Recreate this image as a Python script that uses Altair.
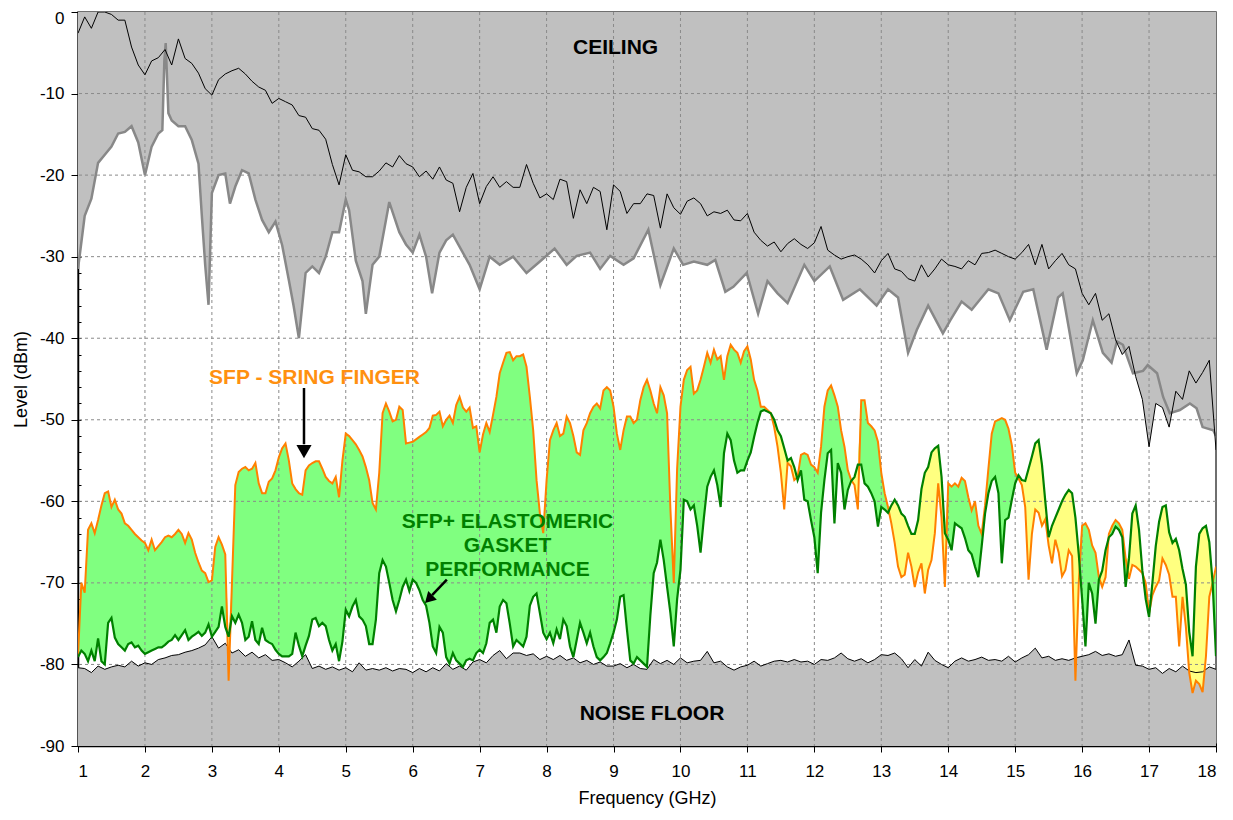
import altair as alt
import numpy as np
import pandas as pd

# ---------------- data ----------------
FREQ = np.round(np.arange(1.0, 18.0001, 0.05), 2)  # shared sweep for SFP / SFP+

SFP_DB = [
    -79, -70, -71.2, -63.5, -62.7, -63.9, -62.3, -60.5, -59, -58.8, -60.7, -59.8, -61, -61.5, -62.7, -63, -63.5, -64, -64.4, -64.8,
    -65.1, -66, -64.7, -66, -65.5, -65, -64.4, -64.2, -64.4, -64, -63.5, -64, -65.1, -63.9, -64.7, -66.3, -67.5, -68.5, -68.8, -69.9,
    -69.7, -65.6, -64.4, -65.3, -66.5, -82, -70, -58, -56.4, -56, -55.8, -56.2, -56, -55.3, -57.8, -59, -59, -57.6, -57.2, -56.2,
    -54.6, -53.5, -52.9, -55, -57.8, -58.5, -59, -59.2, -56.2, -55.6, -55.3, -55.1, -55.1, -56, -57, -57.5, -57.8, -57, -59.5, -55,
    -51.7, -52, -52.5, -53, -53.7, -54.5, -55.8, -57.4, -60.2, -61, -56.5, -49.2, -48, -49, -50.2, -50, -48.4, -48.8, -52.9, -52.8,
    -52.7, -52.4, -52.1, -51.8, -51.5, -51, -49.5, -49.4, -49, -50.8, -50, -49.5, -50.4, -48.2, -47.2, -48.5, -49, -48.5, -51, -50.8,
    -54, -51.8, -50.4, -51.5, -49.4, -47.2, -44.3, -43, -41.8, -41.7, -42.7, -42.2, -42.2, -42, -43.5, -47.2, -51.3, -57.4, -61.5, -63.9,
    -57.4, -52.5, -51.3, -50.4, -52, -51.7, -49.6, -50.4, -52, -54, -54.3, -51.3, -50.4, -49.2, -48.4, -48, -48.6, -46.4, -46, -46.4,
    -48.4, -51.7, -53.7, -51.3, -49.6, -49.6, -50.4, -50, -47.6, -46, -45.1, -46.4, -48, -49.2, -46, -47, -49.2, -61, -70, -56,
    -48.4, -45.1, -43.9, -43.5, -46.8, -46.4, -45.1, -43.5, -41.8, -43, -41.4, -42.6, -42.2, -45.1, -42.2, -40.8, -41.4, -41.8, -43, -41.6,
    -41, -42.6, -45.1, -46.4, -48.4, -48.4, -48.8, -49.2, -50.9, -53.3, -56.5, -61, -55.3, -55.7, -57.4, -57, -54.3, -54.1, -54.3, -55.5,
    -55.8, -56.5, -53.3, -48.4, -46.4, -45.8, -47, -48.4, -51.3, -53.3, -56.2, -57.4, -58, -61, -47.6, -47.6, -50.4, -50.8, -51.3, -52.7,
    -56.5, -59, -60.7, -62.7, -65.1, -68, -69.3, -69, -66.3, -68, -70.5, -68.7, -67.6, -71.3, -68.4, -67.2, -63.9, -57.8, -62, -70.5,
    -57.8, -58.2, -57.8, -58.2, -57.1, -57.5, -59.5, -61.1, -60, -63, -64, -60.5, -56, -51.7, -50.2, -50, -49.8, -50, -51.1, -53.1,
    -56.5, -57.2, -58, -60.7, -69.6, -64, -61, -61.4, -63, -62.2, -65.4, -67.6, -64.7, -66.3, -69.2, -68.4, -66, -66.7, -82, -70,
    -63, -62.7, -63.5, -65.4, -66.3, -69.3, -70.5, -69.3, -64, -63, -62.3, -62.7, -63.5, -67, -69.5, -67.8, -68, -68.4, -68.8, -70,
    -73.7, -71.5, -70.5, -69.7, -67, -67.8, -69, -71.7, -71.7, -77.8, -71.7, -75.4, -81, -83.5, -82, -82.4, -83.4, -79, -71.7, -70,
    -68,
]

SFPP_DB = [
    -79.1, -78.3, -78.7, -79.6, -78.3, -79.6, -76.8, -79.6, -80, -74.9, -74.3, -76.7, -77.5, -77.9, -78.3, -77.5, -77.3, -77.9, -77.7, -78.3,
    -78.7, -78.5, -78.3, -78.1, -77.9, -77.9, -77.6, -77.2, -77, -76.4, -77, -76.4, -75.8, -77, -76.6, -76.3, -76, -76.5, -76.1, -75.1,
    -76.6, -76, -75.4, -72.9, -75.4, -76.6, -74.1, -74.9, -73.9, -74.9, -77, -76.6, -74.7, -77, -77.5, -75.5, -77, -77.3, -77.5, -78.2,
    -78.7, -79, -79, -79, -78.7, -76.1, -77.7, -79, -77.7, -76.5, -74.5, -74.3, -75.3, -74.9, -75.3, -77, -78.3, -77.5, -79.6, -77.2,
    -73.3, -74.1, -72.9, -72.1, -74.1, -74.5, -75.3, -77.5, -77.5, -74.5, -68.8, -67.2, -68, -70, -72.1, -73.5, -72.1, -70.5, -69.6, -71,
    -69.6, -70, -70.9, -72.1, -72.8, -74.9, -77.8, -78.6, -75.4, -76.1, -79.1, -79.9, -78.6, -79.5, -79.9, -80.3, -79.5, -79.3, -79.5, -78.6,
    -78.2, -78.6, -77.4, -74.9, -74.5, -76.1, -72.9, -72.1, -72.5, -75, -77.8, -77, -77.4, -77.8, -76.6, -72.8, -71.7, -71.3, -73.7, -76.1,
    -76.9, -76.1, -77.4, -75.7, -76.9, -74.5, -75.3, -77.8, -79.1, -77, -74.9, -76.1, -77.4, -76.1, -77.8, -79.1, -79.5, -79.1, -78.6, -77.4,
    -76.1, -74.5, -71.7, -71.5, -75.7, -79.5, -79.9, -79.1, -79.5, -79.9, -80.3, -74, -68.8, -67.5, -64.7, -67.2, -70.5, -73.7, -77.8, -72,
    -68.4, -59.8, -60, -61, -60.5, -63, -66.3, -62, -58.2, -57, -56.2, -58, -60.7, -54.1, -51.7, -52.5, -55, -56.5, -56.2, -56.2,
    -55, -54, -52.1, -50.4, -49, -48.8, -49, -49.2, -50, -51.3, -52, -53.5, -55, -54.7, -55.8, -57.4, -56.2, -59.8, -60, -62.3,
    -64.4, -68.8, -61.4, -57.4, -54.1, -53.7, -62.7, -55.3, -56.5, -61, -58.6, -57.5, -57, -55.5, -55.5, -57.8, -58.2, -59, -60, -63.1,
    -60.7, -61, -61.4, -60.5, -59.8, -60.5, -61.5, -61.9, -63, -64, -64, -62.3, -58.5, -56.5, -55.8, -54, -53.5, -53.2, -57, -63.9,
    -64.7, -66, -62.7, -63, -63.3, -64.5, -66, -66.5, -68, -69.3, -65.5, -61.5, -59, -57.5, -57, -59, -67.6, -62.3, -62, -59.8,
    -57.8, -56.8, -57.4, -57.5, -56, -54.5, -52.9, -52.5, -55.5, -60, -64.4, -63, -62, -61, -60, -59.2, -58.6, -59, -62, -66.5,
    -72, -77.8, -70, -71.3, -75, -69.6, -68.5, -66, -64.4, -64, -63.1, -63.5, -64.4, -70.5, -67, -61.5, -60.5, -63.5, -68.5, -72,
    -74.2, -70, -65.5, -62.5, -60.7, -60.5, -63.8, -65.1, -64.6, -66, -68.3, -70.2, -76, -79, -68, -64, -63.3, -63, -65, -70,
    -79,
]

GRID_F = np.round(np.arange(1.0, 18.0001, 0.1), 2)  # sweep for noise floor / ceiling reference

NOISE_DB = [
    -80.4, -80.5, -81, -80.2, -80.6, -80.3, -80.1, -80.3, -79.6, -80.2,
    -79.8, -80, -79.4, -79.2, -78.9, -78.8, -78.5, -78.3, -78, -77.6,
    -76.6, -78, -77.4, -78.6, -78.2, -79, -78.5, -79.2, -78.8, -79.5,
    -79.4, -79.8, -80.3, -79.6, -78.8, -80.5, -80.2, -80.6, -80.3, -80.7,
    -80.4, -80.9, -79.8, -80.7, -80.5, -80.7, -80.4, -80.8, -80.5, -80.6,
    -81, -80.5, -80.9, -80.4, -80.8, -79.9, -80.6, -80.2, -80.7, -79.7,
    -79.4, -79.8, -78.9, -78.3, -79.3, -78.6, -78.6, -78.9, -78.7, -79.4,
    -79, -79.4, -78.9, -79.5, -79.2, -79.8, -79.5, -80, -79.7, -80.2,
    -80.2, -79.9, -80.4, -80, -80.5, -80.6, -79.4, -79.9, -79.5, -80,
    -79.2, -79.8, -79.6, -79.5, -78.4, -79.8, -79.6, -80.3, -80.7, -80.3,
    -80.1, -79.6, -80.2, -79.9, -79.6, -79.5, -79.7, -79.4, -79.7, -79.6,
    -80, -79.4, -79.5, -79.2, -78.6, -79.3, -79.6, -79.3, -79.8, -79.4,
    -78.8, -78.9, -78.6, -79.3, -80.4, -79.4, -80.2, -78.5, -79.5, -80,
    -80.4, -79.6, -79.2, -79.6, -79.4, -79.1, -79.5, -79.4, -79.6, -79,
    -79.7, -79.2, -78.8, -78, -79.2, -79, -79.5, -79.3, -79.5, -79.2,
    -79, -78.8, -78.4, -78.9, -78.7, -79, -78.8, -77, -80.1, -80.2,
    -80.6, -80.4, -81.1, -80.5, -80.9, -80.2, -80.8, -81, -80.9, -80.3,
    -80.6,
]

CEIL_DB = [
    -2.6, -0.6, -2, 0, 0, -0.3, -1, -1, -4.3, -6.5,
    -7.7, -6, -5.6, -4.6, -6.5, -3.3, -5.7, -6.3, -7.5, -9.4,
    -10.2, -8.3, -7.6, -7.2, -6.9, -7.6, -8.5, -9.2, -9.6, -11.2,
    -10.6, -11, -11.4, -12.7, -12.9, -14.3, -14.5, -15.6, -18.7, -21.2,
    -17.5, -19.4, -19.6, -20.2, -20.2, -19.5, -18.5, -19, -17.6, -18.6,
    -19, -20.2, -19.5, -20.5, -19, -20.6, -21, -24.5, -21.5, -19.8,
    -23.5, -21.4, -20.2, -21.5, -20.8, -21.5, -21.5, -18.7, -21, -22.8,
    -22.3, -23, -20.5, -20.8, -25.3, -21.8, -23.5, -21.5, -22, -26.7,
    -21.2, -22, -24.7, -23.5, -23.5, -22.3, -22.5, -26.5, -22.3, -24,
    -24.8, -23.2, -22.8, -23.5, -25, -24.5, -24.7, -24.3, -25.5, -25.6,
    -24.7, -27, -28, -28.7, -28.2, -29.4, -28.4, -27.8, -28.5, -29,
    -28.3, -26.3, -29.2, -29.8, -30.3, -30, -29.8, -30.3, -31, -32,
    -30.5, -29.6, -31.5, -31.8, -32.7, -33, -31, -32.5, -31.5, -30.3,
    -31, -31.2, -31.5, -30.5, -31, -29.6, -29.5, -29.2, -29.6, -30,
    -30.3, -29.5, -28.5, -31, -28.5, -31.5, -30.5, -29.6, -31, -31.5,
    -34.5, -35.9, -34.5, -37.8, -37, -40.2, -42, -41, -44.7, -47.5,
    -53.3, -48, -48.5, -50.9, -46.5, -47.5, -44, -45.5, -44.2, -42.7,
    -53.7,
]

GRAY_F = [
    1.0, 1.1, 1.2, 1.3, 1.4, 1.5, 1.6, 1.7, 1.8, 1.9, 2.0, 2.1, 2.2, 2.26, 2.29, 2.31, 2.35,
    2.4, 2.5, 2.6, 2.7, 2.8, 2.85, 2.9, 2.95, 3.0, 3.1, 3.2, 3.27, 3.35, 3.45, 3.55, 3.65,
    3.75, 3.85, 3.95, 4.05, 4.15, 4.22, 4.3, 4.4, 4.5, 4.6, 4.7, 4.8, 4.9, 5.0, 5.05, 5.15,
    5.25, 5.3, 5.4, 5.5, 5.65, 5.8, 5.9, 6.0, 6.1, 6.2, 6.29, 6.4, 6.5, 6.6, 6.85, 7.0,
    7.15, 7.3, 7.5, 7.7, 7.9, 8.12, 8.3, 8.45, 8.65, 8.8, 8.95, 9.15, 9.3, 9.52, 9.7, 9.9,
    10.04, 10.2, 10.4, 10.52, 10.67, 10.79, 10.99, 11.16, 11.3, 11.45, 11.6, 11.85, 12.0,
    12.23, 12.43, 12.68, 12.93, 13.1, 13.25, 13.4, 13.53, 13.7, 13.92, 14.03, 14.2, 14.35,
    14.6, 14.75, 14.92, 15.12, 15.27, 15.47, 15.64, 15.71, 15.92, 16.01, 16.16, 16.31, 16.44,
    16.52, 16.61, 16.76, 16.91, 16.98, 17.12, 17.21, 17.31, 17.46, 17.61, 17.71, 17.8, 17.96, 18.0,
]
GRAY_DB = [
    -31.5, -25, -22.9, -18.5, -17.5, -16.5, -14.9, -14.7, -14, -16, -20, -16.5, -14.9, -14.5, -6, -3.8, -12.4,
    -13.3, -14, -14, -15.7, -18.6, -25, -31, -35.9, -22.2, -20, -19.8, -23.5, -21.4, -19.4, -19.8, -23,
    -25.5, -27, -25.7, -28.6, -32.9, -36, -40, -32, -31.2, -32, -30, -27, -27, -23, -24.3, -30.5,
    -33, -37, -31, -30, -23.3, -27, -28.5, -29.5, -27.3, -30, -34.5, -29.5, -28, -27.3, -31, -34,
    -30, -31, -30, -32, -30.6, -29, -31, -29.9, -29.5, -31.5, -29.9, -31, -30.2, -26.7, -33.5, -29,
    -31, -30.6, -31, -30.4, -34.3, -33.7, -32, -37, -33, -34.5, -35.7, -31, -33,
    -31.2, -35.3, -34, -36, -34, -35, -41.8, -39, -36, -39.4, -37.8, -35.5, -36.5,
    -34, -34.5, -37.8, -34.3, -34, -41.4, -35, -34.5, -44.3, -42.7, -37.8, -41.8, -43,
    -40.4, -40.8, -44.3, -44, -43.3, -44.3, -47.2, -49.2, -48.8, -48, -48.6, -50.9, -51.3, -52,
]

X_TICKS = list(range(1, 19))
Y_TICKS = list(range(-90, 1, 10))
X_MINOR = [round(1 + 0.2 * i, 1) for i in range(86)]
Y_MINOR = list(range(-90, 1, 2))
X_GRID = list(range(2, 18))
Y_GRID = list(range(-80, 0, 10))

LABELS = ["CEILING", "NOISE FLOOR", "SFP - SRING FINGER",
          "SFP+ ELASTOMERIC", "GASKET", "PERFORMANCE"]

assert len(SFP_DB) == len(FREQ) and len(SFPP_DB) == len(FREQ)
assert len(NOISE_DB) == len(GRID_F) and len(CEIL_DB) == len(GRID_F)
assert len(GRAY_F) == len(GRAY_DB)

# ---------------- tables ----------------
sfp = pd.DataFrame({"f": FREQ, "o": SFP_DB, "g": SFPP_DB})
sfp["top"] = np.maximum(sfp["o"], sfp["g"])
noise = pd.DataFrame({"f": GRID_F, "db": NOISE_DB})
ceil = pd.DataFrame({"f": GRID_F, "db": CEIL_DB})
gray = pd.DataFrame({"f": GRAY_F, "db": GRAY_DB})

FONT = "Liberation Sans"
xs = alt.Scale(domain=[1, 18], nice=False, zero=False)
ys = alt.Scale(domain=[-90, 0], nice=False, zero=False)


def X(field, axis=None):
    return alt.X(field, type="quantitative", scale=xs, axis=axis)


def Y(field, axis=None):
    return alt.Y(field, type="quantitative", scale=ys, axis=axis)


x_axis = alt.Axis(values=X_TICKS, labelExpr="datum.value + ''", title="Frequency (GHz)",
                  orient="bottom", grid=False, tickSize=6, tickColor="black", tickWidth=1,
                  domainColor="black", domainWidth=1.5,
                  labelFont=FONT, labelFontSize=17, labelColor="black", labelPadding=11,
                  titleFont=FONT, titleFontSize=18, titleFontWeight="normal",
                  titleColor="black", titlePadding=10)
y_axis = alt.Axis(values=Y_TICKS, labelExpr="datum.value + ''", title="Level (dBm)",
                  orient="left", grid=False, tickSize=7, tickColor="black", tickWidth=1,
                  domainColor="black", domainWidth=1.5,
                  labelFont=FONT, labelFontSize=17, labelColor="black", labelPadding=7,
                  labelOffset={"condition": {"test": "datum.value == 0", "value": 6}, "value": 0},
                  titleFont=FONT, titleFontSize=18, titleFontWeight="normal",
                  titleColor="black", titlePadding=9)
x_minor = alt.Axis(values=X_MINOR, orient="bottom", labels=False, title="", grid=False,
                   domain=False, tickSize=3, offset=-3, tickColor="black")
y_minor = alt.Axis(values=Y_MINOR, orient="left", labels=False, title="", grid=False,
                   domain=False, tickSize=3, offset=-3, tickColor="black")

GRAYFILL = "#c0c0c0"

ceil_fill = alt.Chart(ceil).mark_area(color=GRAYFILL, opacity=1, clip=True).encode(
    x=X("f", x_axis), y=Y("db", y_axis), y2=alt.datum(0))
gray_fill = alt.Chart(gray).mark_area(color=GRAYFILL, opacity=1, clip=True).encode(
    x=X("f", x_minor), y=Y("db", y_minor), y2=alt.datum(0))
noise_fill = alt.Chart(noise).mark_area(color=GRAYFILL, opacity=1, clip=True).encode(
    x=X("f"), y=Y("db"), y2=alt.datum(-90))

green_fill = alt.Chart(sfp).mark_area(color="#80ff80", opacity=1, clip=True).encode(
    x=X("f"), y=Y("top"), y2="g")
yellow_fill = alt.Chart(sfp).mark_area(color="#ffff80", opacity=1, clip=True).encode(
    x=X("f"), y=Y("top"), y2="o")

vgrid = alt.Chart(pd.DataFrame({"v": X_GRID})).mark_rule(
    color="#8a8a8a", strokeDash=[3, 3], strokeWidth=1).encode(x=X("v"))
hgrid = alt.Chart(pd.DataFrame({"v": Y_GRID})).mark_rule(
    color="#8a8a8a", strokeDash=[3, 3], strokeWidth=1).encode(y=Y("v"))

gray_line = alt.Chart(gray).mark_line(color="#888888", strokeWidth=2.5, clip=True).encode(
    x=X("f"), y=Y("db"))
ceil_line = alt.Chart(ceil).mark_line(color="black", strokeWidth=1, clip=True).encode(
    x=X("f"), y=Y("db"))
noise_line = alt.Chart(noise).mark_line(color="black", strokeWidth=1, clip=True).encode(
    x=X("f"), y=Y("db"))
orange_line = alt.Chart(sfp).mark_line(color="#ff8000", strokeWidth=2, clip=True).encode(
    x=X("f"), y=Y("o"))
green_line = alt.Chart(sfp).mark_line(color="#008000", strokeWidth=2.2, clip=True).encode(
    x=X("f"), y=Y("g"))

# annotations
black_txt = pd.DataFrame({"t": LABELS[:2], "x": [9.03, 9.575], "y": [-4.4, -86.1]})
orange_txt = pd.DataFrame({"t": [LABELS[2]], "x": [4.533], "y": [-44.9]})
green_txt = pd.DataFrame({"t": LABELS[3:], "x": [7.416] * 3, "y": [-62.5, -65.5, -68.4]})


def txt(df, color):
    return alt.Chart(df).mark_text(font=FONT, fontSize=21, fontWeight="bold", color=color,
                                   align="center", baseline="middle").encode(
        x=X("x"), y=Y("y"), text="t:N")


arrow_shafts = pd.DataFrame({"x": [4.376, 6.51], "y": [-46.1, -69.6],
                             "x2": [4.376, 6.29], "y2": [-53.0, -71.5]})
shafts = alt.Chart(arrow_shafts).mark_rule(color="black", strokeWidth=2.5).encode(
    x=X("x"), y=Y("y"), x2="x2", y2="y2")
head1 = alt.Chart(pd.DataFrame({"x": [4.376], "y": [-53.9]})).mark_point(
    shape="triangle-down", filled=True, color="black", size=230, opacity=1).encode(
    x=X("x"), y=Y("y"))
head2 = alt.Chart(pd.DataFrame({"x": [6.24], "y": [-72.0]})).mark_point(
    shape="triangle-down", filled=True, color="black", size=150, opacity=1, angle=45).encode(
    x=X("x"), y=Y("y"))

chart = alt.layer(
    ceil_fill, gray_fill, noise_fill, green_fill, yellow_fill,
    vgrid, hgrid,
    gray_line, ceil_line, noise_line, orange_line, green_line,
    txt(black_txt, "black"), txt(orange_txt, "#ff9010"), txt(green_txt, "#008000"),
    shafts, head1, head2,
).resolve_axis(x="independent", y="independent").properties(
    width=1138, height=734,
    padding={"left": 70, "top": 4, "right": 9, "bottom": 70},
    autosize=alt.AutoSizeParams(type="none"),
    background="white",
).configure_view(stroke="#404040", strokeWidth=1.5)

chart.save("out.html", embed_options={"renderer": "svg", "actions": False})
